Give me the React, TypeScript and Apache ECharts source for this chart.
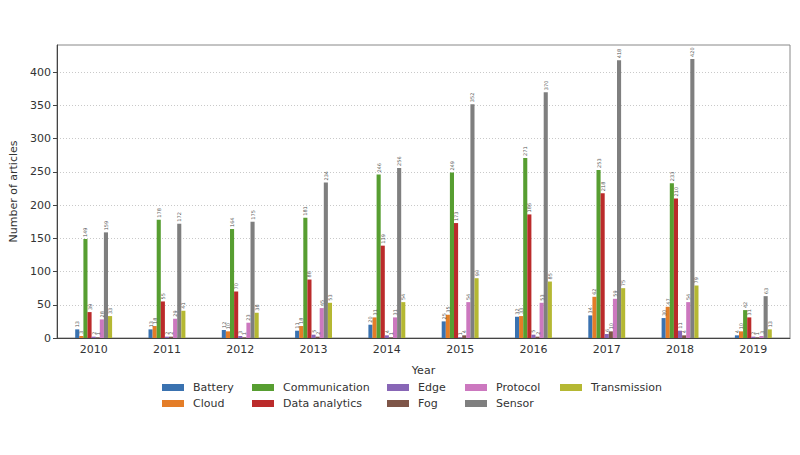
import React, { useEffect, useRef } from "react";
import * as echarts from "echarts";

const years = ["2010", "2011", "2012", "2013", "2014", "2015", "2016", "2017", "2018", "2019"];
const seriesNames = ["Battery", "Cloud", "Communication", "Data analytics", "Edge", "Fog", "Protocol", "Sensor", "Transmission"];
const battery = [13, 13, 12, 11, 20, 25, 32, 34, 30, 4];
const cloud = [3, 18, 10, 18, 31, 35, 33, 62, 47, 10];
const communication = [149, 178, 164, 181, 246, 249, 271, 253, 233, 42];
const dataAnalytics = [39, 55, 70, 88, 139, 173, 186, 218, 210, 31];
const edge = [2, 2, 3, 5, 4, 1, 5, 6, 11, 2];
const fog = [1, 2, 1, 2, 1, 4, 2, 10, 4, 1];
const protocol = [28, 29, 23, 45, 31, 54, 53, 59, 54, 3];
const sensor = [159, 172, 175, 234, 256, 352, 370, 418, 420, 63];
const transmission = [33, 41, 38, 53, 54, 90, 85, 75, 79, 13];
const yTicks = [0, 50, 100, 150, 200, 250, 300, 350, 400];

const colors = ["#3a72b0", "#e47d28", "#579e31", "#bb2b2b", "#8866b6", "#7e5548", "#cc78bf", "#7f7f7f", "#b5b833"];
const allData = [battery, cloud, communication, dataAnalytics, edge, fog, protocol, sensor, transmission];

// legend layout: column-major, 5 columns, 2 rows
const legendX = [162, 252, 387, 465, 560];
const legendY = [382, 398];

export default function App() {
  const ref = useRef<HTMLDivElement>(null);
  useEffect(() => {
    const chart = echarts.init(ref.current!, null, { renderer: "svg" });
    const font = "DejaVu Sans";
    const legends = seriesNames.map((name, i) => ({
      data: [name],
      left: legendX[Math.floor(i / 2)],
      top: legendY[i % 2],
      itemWidth: 22,
      itemHeight: 7,
      itemGap: 0,
      padding: 0,
      icon: "rect",
      selectedMode: false,
      textStyle: { fontFamily: font, fontSize: 11, color: "#333", padding: [0, 0, 0, 4] },
    }));
    chart.setOption({
      animation: false,
      color: colors,
      textStyle: { fontFamily: font },
      legend: legends,
      grid: {
        left: 51,
        right: 10,
        top: 45,
        bottom: 117,
        show: true,
        borderColor: "#888",
        borderWidth: 1,
        containLabel: false,
      },
      xAxis: {
        type: "category",
        data: years,
        name: "Year",
        nameLocation: "middle",
        nameGap: 27,
        nameTextStyle: { fontFamily: font, fontSize: 11, color: "#333" },
        axisLine: { lineStyle: { color: "#444" } },
        axisTick: { alignWithLabel: true, length: 4, lineStyle: { color: "#444" } },
        axisLabel: { fontFamily: font, fontSize: 11, color: "#333", margin: 6 },
      },
      yAxis: {
        type: "value",
        min: 0,
        max: 441,
        interval: 50,
        name: "Number of articles",
        nameLocation: "middle",
        nameGap: 38,
        nameTextStyle: { fontFamily: font, fontSize: 11, color: "#333" },
        axisLine: { show: true, lineStyle: { color: "#444" } },
        axisTick: { show: true, length: 4, customValues: yTicks, lineStyle: { color: "#444" } },
        axisLabel: { fontFamily: font, fontSize: 11, color: "#333", margin: 6, customValues: yTicks },
        splitLine: { show: true, lineStyle: { color: "#bbb", type: [1, 2], width: 0.8 } },
      },
      series: seriesNames.map((name, i) => ({
        name,
        type: "bar",
        data: allData[i],
        barWidth: 4.1,
        barGap: "0%",
        barCategoryGap: "50%",
        label: {
          show: true,
          position: "top",
          rotate: 90,
          align: "left",
          verticalAlign: "middle",
          distance: 2,
          fontSize: 5,
          fontFamily: font,
          color: "#555",
        },
      })),
    });
    return () => chart.dispose();
  }, []);
  return <div ref={ref} style={{ width: 800, height: 455, position: "absolute", left: 0, top: 0, background: "#fff" }} />;
}
